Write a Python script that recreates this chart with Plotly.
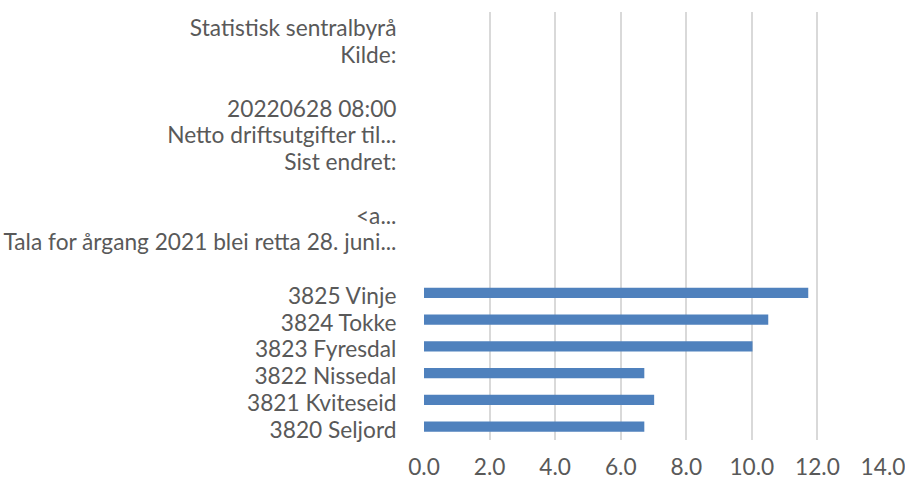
import plotly.graph_objects as go

categories = [
    "3820 Seljord",
    "3821 Kviteseid",
    "3822 Nissedal",
    "3823 Fyresdal",
    "3824 Tokke",
    "3825 Vinje",
    " ",
    "Tala for årgang 2021 blei retta 28. juni...",
    "<a...",
    "  ",
    "Sist endret:",
    "Netto driftsutgifter til...",
    "20220628 08:00",
    "   ",
    "Kilde:",
    "Statistisk sentralbyrå",
]
values = [6.72, 7.02, 6.72, 10.02, 10.5, 11.72,
          None, None, None, None, None, None, None, None, None, None]
x_ticks = [0, 2, 4, 6, 8, 10, 12, 14]
x_tick_labels = ["0.0", "2.0", "4.0", "6.0", "8.0", "10.0", "12.0", "14.0"]

fig = go.Figure(go.Bar(
    y=categories, x=values, orientation="h",
    marker=dict(color="#4F81BD", line=dict(width=0)),
    hoverinfo="x+y",
))

font = dict(family="Lato, 'Open Sans', sans-serif", size=22.7, color="#595959")

fig.update_layout(
    width=905, height=480,
    margin=dict(l=424, r=22, t=12, b=40, autoexpand=False),
    plot_bgcolor="white", paper_bgcolor="white",
    bargap=0.625,
    showlegend=False,
    font=font,
    xaxis=dict(
        range=[0, 14], tickmode="array", tickvals=x_ticks, ticktext=x_tick_labels,
        showgrid=True, gridcolor="#D9D9D9", gridwidth=2,
        zeroline=False, showline=False,
        ticks="outside", ticklen=7, tickcolor="rgba(0,0,0,0)",
        tickfont=font, fixedrange=True, ticklabeloverflow="allow",
    ),
    yaxis=dict(
        type="category", categoryorder="array", categoryarray=categories,
        tickmode="array", tickvals=categories, ticktext=categories,
        range=[-0.5, len(categories) - 0.5],
        showgrid=False, zeroline=False, showline=False,
        ticks="outside", ticklen=22, tickcolor="rgba(0,0,0,0)",
        tickfont=font, fixedrange=True, ticklabelshift=3,
    ),
)

fig.write_html(
    "out.html",
    config={"displayModeBar": False},
    post_script="document.body.style.margin='0';document.body.style.overflow='hidden';",
)
